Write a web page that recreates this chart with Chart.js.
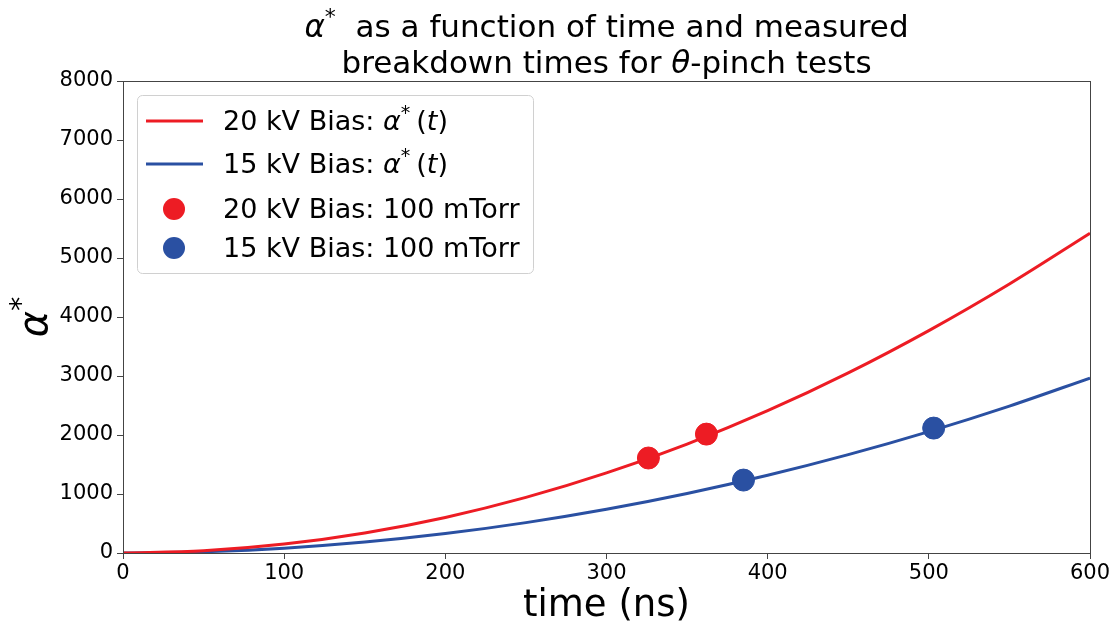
<!DOCTYPE html>
<html>
<head>
<meta charset="utf-8">
<script src="https://cdn.jsdelivr.net/npm/chart.js@4.4.1/dist/chart.umd.min.js"></script>
<style>
  html, body { margin:0; padding:0; background:#fff; }
  #wrap { width:1115px; height:623px; position:relative; }
</style>
</head>
<body>
<div id="wrap"><canvas id="chart" width="1115" height="623"></canvas></div>
<script>
// curve samples (ns, alpha*)
const timeNs  = [0, 50, 100, 150, 200, 250, 300, 350, 400, 450, 500, 550, 600];
const alpha20 = [0, 38, 151, 340, 603, 942, 1357, 1847, 2412, 3053, 3770, 4560, 5420];
const alpha15 = [0, 21, 82, 185, 329, 515, 741, 1009, 1317, 1667, 2058, 2490, 2964];

// measured breakdown times
const tMeas20 = [326, 362];
const aMeas20 = [1610, 2015];
const tMeas15 = [385, 503];
const aMeas15 = [1236, 2117];

const xTicks = [0, 100, 200, 300, 400, 500, 600];
const yTicks = [0, 1000, 2000, 3000, 4000, 5000, 6000, 7000, 8000];

const RED = "#ed1c24";
const BLUE = "#2a50a2";
const FONT = "'DejaVu Sans'";

const $ = (id) => document.getElementById(id);
const pts = (xs, ys) => xs.map((x, i) => ({ x, y: ys[i] }));

// draws text pieces: {t, it (italic), sup (superscript)}
function drawRuns(ctx, runs, x, y, size, align) {
  const font = (r) => (r.it ? "italic " : "") + Math.round(r.sup ? size * 0.7 : size) + "px " + FONT;
  let total = 0;
  runs.forEach(r => { ctx.font = font(r); total += ctx.measureText(r.t).width; });
  let cx = align === "center" ? x - total / 2 : x;
  ctx.textAlign = "left";
  ctx.textBaseline = "alphabetic";
  runs.forEach(r => {
    ctx.font = font(r);
    ctx.fillText(r.t, cx, r.sup ? y - size * 0.42 : y);
    cx += ctx.measureText(r.t).width;
  });
}

const decor = {
  id: "decor",
  afterDraw(chart) {
    const ctx = chart.ctx;
    const a = chart.chartArea;
    ctx.save();

    // frame
    ctx.strokeStyle = "#444";
    ctx.lineWidth = 1;
    ctx.strokeRect(a.left + 0.5, a.top + 0.5, a.right - a.left, a.bottom - a.top);

    // title
    ctx.fillStyle = "#000";
    const mid = (a.left + a.right) / 2;
    drawRuns(ctx, [{t:"\u03b1", it:true}, {t:"*", sup:true}, {t:"  as a function of time and measured"}], mid, 37, 31, "center");
    drawRuns(ctx, [{t:"breakdown times for "}, {t:"\u03b8", it:true}, {t:"-pinch tests"}], mid, 73, 31, "center");

    // x title
    ctx.font = "37px " + FONT;
    ctx.textAlign = "center";
    ctx.textBaseline = "alphabetic";
    ctx.fillText("time (ns)", mid, 616);

    // y title
    ctx.save();
    ctx.translate(47, (a.top + a.bottom) / 2);
    ctx.rotate(-Math.PI / 2);
    drawRuns(ctx, [{t:"\u03b1", it:true}, {t:"*", sup:true}], 0, 0, 40, "center");
    ctx.restore();

    // legend
    const lx = 137, ly = 95, lw = 396, lh = 178;
    ctx.fillStyle = "rgba(255,255,255,0.85)";
    ctx.strokeStyle = "#d0d0d0";
    ctx.lineWidth = 1;
    ctx.beginPath();
    ctx.roundRect(lx + 0.5, ly + 0.5, lw, lh, 5);
    ctx.fill();
    ctx.stroke();

    const rows = [
      { y:121, color:RED, kind:"line", runs:[{t:"20 kV Bias: "}, {t:"\u03b1", it:true}, {t:"* ", sup:true}, {t:"("}, {t:"t", it:true}, {t:")"}] },
      { y:164, color:BLUE, kind:"line", runs:[{t:"15 kV Bias: "}, {t:"\u03b1", it:true}, {t:"* ", sup:true}, {t:"("}, {t:"t", it:true}, {t:")"}] },
      { y:209, color:RED, kind:"dot", runs:[{t:"20 kV Bias: 100 mTorr"}] },
      { y:248, color:BLUE, kind:"dot", runs:[{t:"15 kV Bias: 100 mTorr"}] }
    ];
    rows.forEach(r => {
      if (r.kind === "line") {
        ctx.strokeStyle = r.color;
        ctx.lineWidth = 3;
        ctx.beginPath();
        ctx.moveTo(146, r.y);
        ctx.lineTo(203, r.y);
        ctx.stroke();
      } else {
        ctx.fillStyle = r.color;
        ctx.beginPath();
        ctx.arc(174, r.y, 11, 0, Math.PI * 2);
        ctx.fill();
      }
      ctx.fillStyle = "#000";
      drawRuns(ctx, r.runs, 223, r.y + 9, 27, "left");
    });

    ctx.restore();
  }
};

new Chart($("chart"), {
  type: "scatter",
  data: {
    datasets: [
      { label:"20 kV Bias: 100 mTorr", data: pts(tMeas20, aMeas20), backgroundColor: RED, borderColor: RED, pointRadius: 11, pointHoverRadius: 11, order: 1 },
      { label:"15 kV Bias: 100 mTorr", data: pts(tMeas15, aMeas15), backgroundColor: BLUE, borderColor: BLUE, pointRadius: 11, pointHoverRadius: 11, order: 1 },
      { label:"20 kV Bias", data: pts(timeNs, alpha20), showLine: true, borderColor: RED, borderWidth: 3, pointRadius: 0, cubicInterpolationMode: "monotone", order: 2 },
      { label:"15 kV Bias", data: pts(timeNs, alpha15), showLine: true, borderColor: BLUE, borderWidth: 3, pointRadius: 0, cubicInterpolationMode: "monotone", order: 2 }
    ]
  },
  options: {
    responsive: false,
    animation: false,
    layout: { padding: { left: 0, right: 25, top: 81, bottom: 0 } },
    plugins: { legend: { display: false }, tooltip: { enabled: false }, title: { display: false } },
    scales: {
      x: {
        type: "linear",
        min: 0, max: 600,
        afterBuildTicks: (s) => { s.ticks = xTicks.map(v => ({ value: v })); },
        afterFit: (s) => { s.height = 70; },
        grid: { display: true, drawOnChartArea: false, drawTicks: true, tickLength: 6, color: "#444" },
        border: { display: true, color: "#444" },
        ticks: { color: "#000", font: { family: FONT, size: 21 }, padding: 2, maxRotation: 0, callback: (v) => String(v) }
      },
      y: {
        type: "linear",
        min: 0, max: 8000,
        afterBuildTicks: (s) => { s.ticks = yTicks.map(v => ({ value: v })); },
        afterFit: (s) => { s.width = 123; },
        grid: { display: true, drawOnChartArea: false, drawTicks: true, tickLength: 6, color: "#444" },
        border: { display: true, color: "#444" },
        ticks: { color: "#000", font: { family: FONT, size: 21 }, padding: 4, callback: (v) => String(v) }
      }
    }
  },
  plugins: [decor]
});
</script>
</body>
</html>
